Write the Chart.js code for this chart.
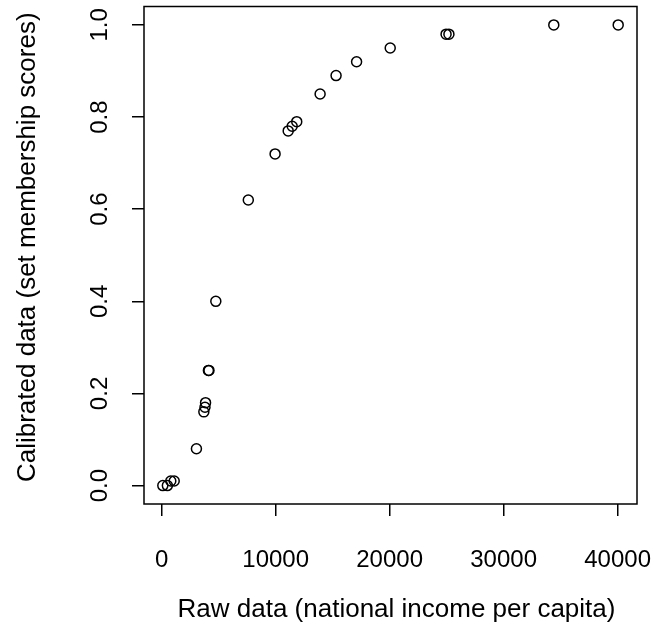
<!DOCTYPE html>
<html>
<head>
<meta charset="utf-8">
<script src="https://cdn.jsdelivr.net/npm/chart.js@4/dist/chart.umd.min.js"></script>
<style>
  body { margin: 0; background: #fff; }
  #wrap { width: 661px; height: 636px; position: relative; }
</style>
</head>
<body>
<div id="wrap"><canvas id="calibChart"></canvas></div>
<script>
// raw national income per capita vs calibrated membership score
var incomeX = [100, 500, 800, 1100, 3050, 3700, 3800, 3850, 4100, 4150, 4750, 7600, 9950, 11100, 11450, 11850, 13900, 15300, 17100, 20050, 24950, 25200, 34400, 40050];
var membershipY = [0, 0, 0.01, 0.01, 0.08, 0.16, 0.17, 0.18, 0.25, 0.25, 0.40, 0.62, 0.72, 0.77, 0.78, 0.79, 0.85, 0.89, 0.92, 0.95, 0.98, 0.98, 1.0, 1.0];

var xTicks = [0, 10000, 20000, 30000, 40000];
var xTickLabels = ['0', '10000', '20000', '30000', '40000'];
var yTicks = [0, 0.2, 0.4, 0.6, 0.8, 1.0];
var yTickLabels = ['0.0', '0.2', '0.4', '0.6', '0.8', '1.0'];

var xTitle = 'Raw data (national income per capita)';
var yTitle = 'Calibrated data (set membership scores)';

var fontFamily = '"Liberation Sans", Arial, Helvetica, sans-serif';
var tickSize = 24;
var titleSize = 26;

var points = incomeX.map(function(x, i) {
  return { x: x, y: membershipY[i] };
});

// box round the plot region, vertical y tick labels and the axis titles (R style)
var rBoxPlugin = {
  id: 'rBox',
  afterDraw: function(chart) {
    var ctx = chart.ctx;
    var area = chart.chartArea;
    var yScale = chart.scales.y;
    ctx.save();
    ctx.strokeStyle = '#000';
    ctx.lineWidth = 1.5;
    ctx.strokeRect(area.left, area.top, area.right - area.left, area.bottom - area.top);

    ctx.fillStyle = '#000';
    ctx.font = tickSize + 'px ' + fontFamily;
    ctx.textAlign = 'center';
    ctx.textBaseline = 'alphabetic';
    for (var i = 0; i < yTicks.length; i++) {
      var py = yScale.getPixelForValue(yTicks[i]);
      ctx.save();
      ctx.translate(area.left - 37, py);
      ctx.rotate(-Math.PI / 2);
      ctx.fillText(yTickLabels[i], 0, 0);
      ctx.restore();
    }

    // titles sit a little off the plot centre in the original
    var midX = (area.left + area.right) / 2 + 6;
    var midY = (area.top + area.bottom) / 2 - 8;
    ctx.font = titleSize + 'px ' + fontFamily;
    ctx.textBaseline = 'middle';
    ctx.fillText(xTitle, midX, 609.5);
    ctx.save();
    ctx.translate(28, midY);
    ctx.rotate(-Math.PI / 2);
    ctx.fillText(yTitle, 0, 0);
    ctx.restore();
    ctx.restore();
  }
};

var ctx = document.getElementById('calibChart').getContext('2d');
var calibChart = new Chart(ctx, {
  type: 'scatter',
  data: {
    datasets: [{
      data: points,
      pointStyle: 'circle',
      pointRadius: 5,
      pointHoverRadius: 5,
      pointBorderWidth: 1.5,
      borderColor: '#000',
      backgroundColor: 'rgba(0,0,0,0)'
    }]
  },
  options: {
    responsive: true,
    maintainAspectRatio: false,
    animation: false,
    layout: { padding: { top: 5, right: 24, left: 0, bottom: 0 } },
    plugins: {
      legend: { display: false },
      tooltip: { enabled: false }
    },
    scales: {
      x: {
        type: 'linear',
        min: -1550,
        max: 41700,
        afterBuildTicks: function(scale) {
          scale.ticks = xTicks.map(function(v) { return { value: v }; });
        },
        afterFit: function(scale) {
          scale.height = 132;
          // no extra room for the overhanging end labels
          scale.paddingLeft = 0;
          scale.paddingRight = 0;
        },
        border: { display: false },
        grid: { drawOnChartArea: false, drawTicks: true, tickLength: 12, color: '#000', lineWidth: 1.5 },
        ticks: {
          color: '#000',
          font: { family: fontFamily, size: tickSize },
          padding: 30,
          maxRotation: 0,
          autoSkip: false,
          callback: function(value) {
            var i = xTicks.indexOf(value);
            return i >= 0 ? xTickLabels[i] : '';
          }
        },
        title: { display: false }
      },
      y: {
        type: 'linear',
        min: -0.04,
        max: 1.04,
        afterBuildTicks: function(scale) {
          scale.ticks = yTicks.map(function(v) { return { value: v }; });
        },
        afterFit: function(scale) {
          scale.width = 144;
          scale.paddingTop = 0;
          scale.paddingBottom = 0;
        },
        border: { display: false },
        grid: { drawOnChartArea: false, drawTicks: true, tickLength: 12, color: '#000', lineWidth: 1.5 },
        ticks: { display: false },
        title: { display: false }
      }
    }
  },
  plugins: [rBoxPlugin]
});
</script>
</body>
</html>
